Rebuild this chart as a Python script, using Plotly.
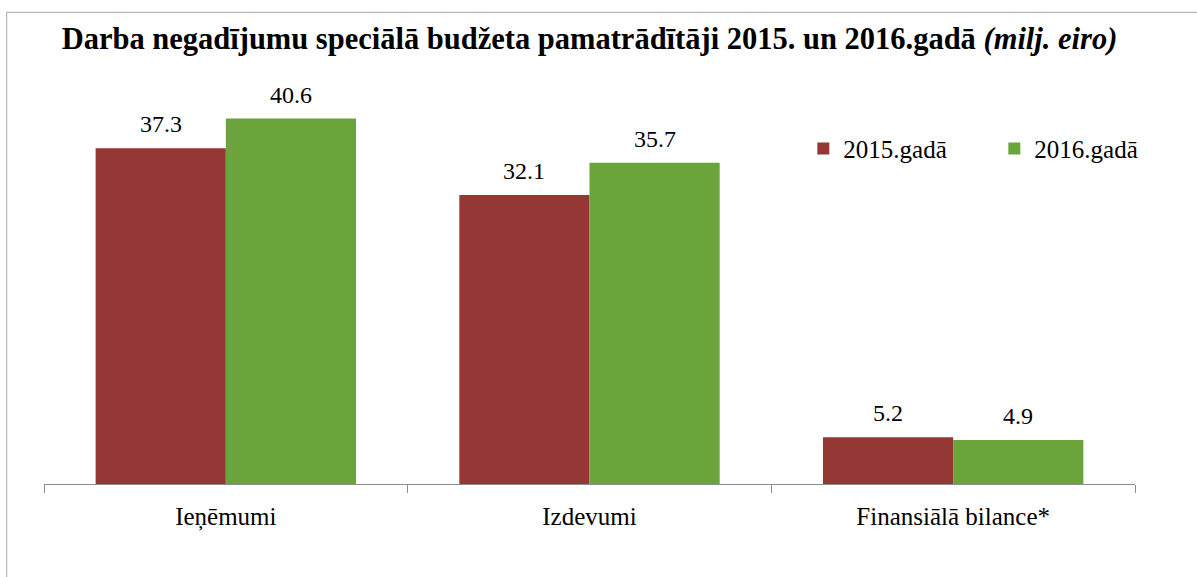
import plotly.graph_objects as go

categories = ["Ieņēmumi", "Izdevumi", "Finansiālā bilance*"]
series_names = ["2015.gadā", "2016.gadā"]
values_2015 = [37.3, 32.1, 5.2]
values_2016 = [40.6, 35.7, 4.9]
colors = ["#953735", "#6BA43A"]
title_text = "<b>Darba negadījumu speciālā budžeta pamatrādītāji 2015. un 2016.gadā <i>(milj. eiro)</i></b>"

FONT = "Liberation Serif, Times New Roman, serif"
bargap = 0.284
bar_w = (1 - bargap) / 2

fig = go.Figure()
for name, vals, col in zip(series_names, [values_2015, values_2016], colors):
    fig.add_trace(go.Bar(x=categories, y=vals, name=name, marker=dict(color=col, line=dict(width=0))))

annotations = []
for k, vals in enumerate([values_2015, values_2016]):
    off = -bar_w / 2 if k == 0 else bar_w / 2
    for i, v in enumerate(vals):
        annotations.append(dict(x=i + off, y=v, xref="x", yref="y", text=f"{v:.1f}",
                                showarrow=False, yanchor="middle", yshift=24,
                                font=dict(family=FONT, size=24, color="#000000")))

fig.update_layout(
    width=1197, height=577,
    margin=dict(l=44, r=33, t=79, b=93),
    paper_bgcolor="white", plot_bgcolor="white",
    barmode="group", bargap=bargap, bargroupgap=0,
    title=dict(text=title_text, x=0.5, xref="paper", xanchor="center", y=0.933, yanchor="middle",
               font=dict(family=FONT, size=30.5, color="#000000")),
    xaxis=dict(type="category", showline=True, linecolor="#8C8C8C", linewidth=1,
               ticks="outside", tickson="boundaries", ticklen=8, tickcolor="#8C8C8C",
               tickfont=dict(family=FONT, size=25, color="#000000"), showgrid=False, zeroline=False,
               ticklabelstandoff=10),
    yaxis=dict(range=[0, 45], visible=False, showgrid=False, zeroline=False),
    legend=dict(orientation="h", x=0.696, y=0.828, xanchor="left", yanchor="middle",
                font=dict(family=FONT, size=25, color="#000000"), bgcolor="rgba(0,0,0,0)",
                entrywidth=146, entrywidthmode="pixels", itemclick=False),
    showlegend=True,
    annotations=annotations,
    shapes=[dict(type="rect", xref="paper", yref="paper", x0=-0.0342, x1=1.1, y0=-0.3, y1=1.1647,
                 line=dict(color="#A6A6A6", width=1), fillcolor="rgba(0,0,0,0)", layer="below")],
)

# remove the default 8px page margin so the figure sits at the window origin
fix_margin = "document.body.style.margin='0';document.body.style.overflow='hidden';"
fig.write_html("out.html", post_script=fix_margin, config={"displayModeBar": False})
